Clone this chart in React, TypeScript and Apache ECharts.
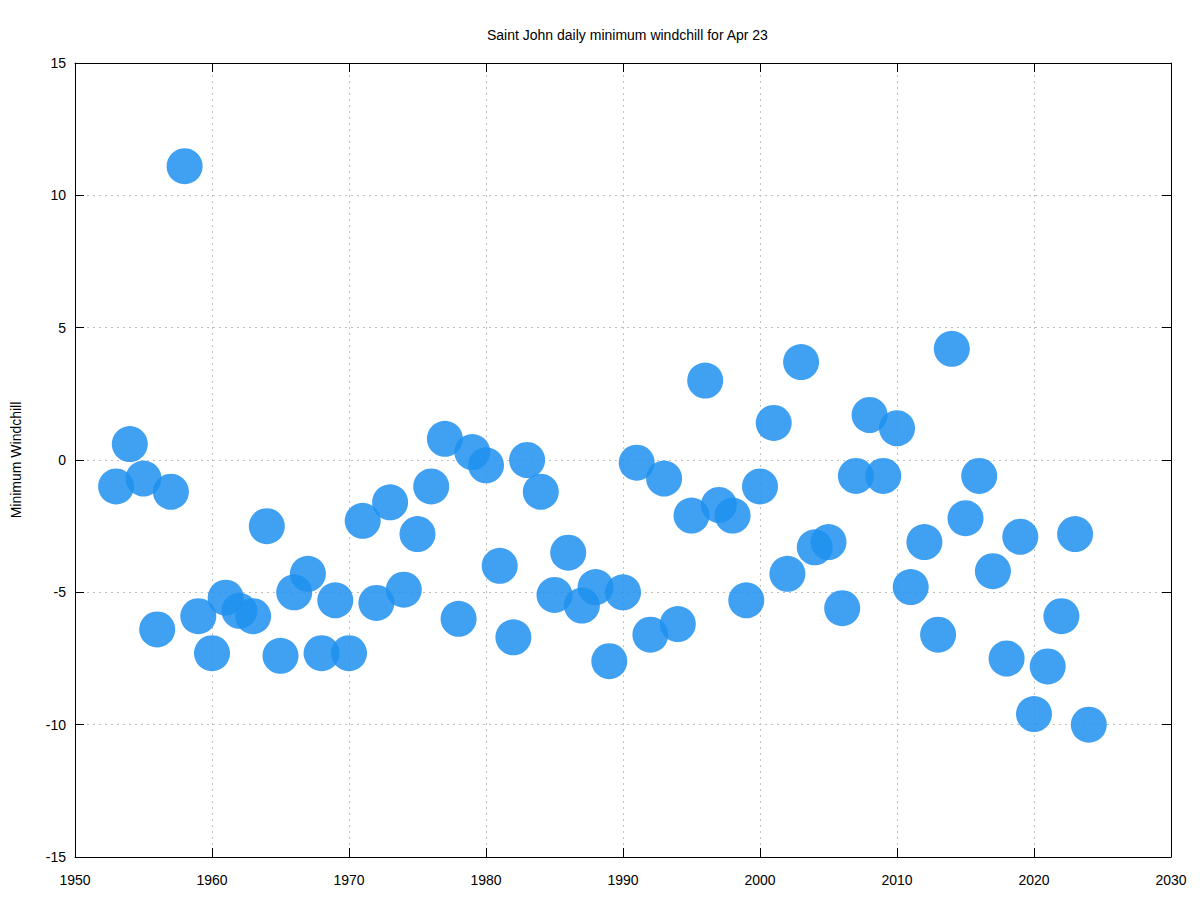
import React, { useEffect, useRef } from "react";
import * as echarts from "echarts";

const years = [
  1953, 1954, 1955, 1956, 1957, 1958, 1959, 1960, 1961, 1962, 1963, 1964, 1965, 1966, 1967, 1968,
  1969, 1970, 1971, 1972, 1973, 1974, 1975, 1976, 1977, 1978, 1979, 1980, 1981, 1982, 1983, 1984,
  1985, 1986, 1987, 1988, 1989, 1990, 1991, 1992, 1993, 1994, 1995, 1996, 1997, 1998, 1999, 2000,
  2001, 2002, 2003, 2004, 2005, 2006, 2007, 2008, 2009, 2010, 2011, 2012, 2013, 2014, 2015, 2016,
  2017, 2018, 2019, 2020, 2021, 2022, 2023, 2024,
];
const windchill = [
  -1.0, 0.6, -0.7, -6.4, -1.2, 11.1, -5.9, -7.3, -5.2, -5.7, -5.9, -2.5, -7.4, -5.0, -4.3, -7.3,
  -5.3, -7.3, -2.3, -5.4, -1.6, -4.9, -2.8, -1.0, 0.8, -6.0, 0.3, -0.2, -4.0, -6.7, 0.0, -1.2,
  -5.1, -3.5, -5.5, -4.8, -7.6, -5.0, -0.1, -6.6, -0.7, -6.2, -2.1, 3.0, -1.7, -2.1, -5.3, -1.0,
  1.4, -4.3, 3.7, -3.3, -3.1, -5.6, -0.6, 1.7, -0.6, 1.2, -4.8, -3.1, -6.6, 4.2, -2.2, -0.6,
  -4.2, -7.5, -2.9, -9.6, -7.8, -5.9, -2.8, -10.0,
];

const titleText = "Saint John daily minimum windchill for Apr 23";
const yAxisName = "Minimum Windchill";

export default function App() {
  const ref = useRef<HTMLDivElement>(null);
  useEffect(() => {
    if (!ref.current) return;
    const chart = echarts.init(ref.current, undefined, { renderer: "svg" });
    const font = "Liberation Sans, Arial, Helvetica, sans-serif";
    const gridLine = { show: true, lineStyle: { color: "#c0c0c0", type: [2, 4] as any, width: 1 } };
    const axisLine = { show: true, onZero: false, lineStyle: { color: "#000", width: 1 } };
    const tick = { show: true, inside: true, length: 9, lineStyle: { color: "#000", width: 1 } };
    chart.setOption({
      animation: false,
      backgroundColor: "#fff",
      title: {
        text: titleText,
        left: 482,
        top: 23,
        textStyle: { fontFamily: font, fontSize: 14, fontWeight: "normal", color: "#000" },
      },
      grid: { left: 75, right: 29, top: 63, bottom: 43, containLabel: false },
      xAxis: [
        {
          type: "value",
          min: 1950,
          max: 2030,
          interval: 10,
          position: "bottom",
          axisLine,
          axisTick: tick,
          splitLine: gridLine,
          axisLabel: {
            fontFamily: font,
            fontSize: 14,
            color: "#000",
            margin: 16,
            formatter: (v: number) => String(v),
          },
        },
        {
          type: "value",
          min: 1950,
          max: 2030,
          interval: 10,
          position: "top",
          axisLine,
          axisTick: tick,
          splitLine: { show: false },
          axisLabel: { show: false },
        },
      ],
      yAxis: [
        {
          type: "value",
          min: -15,
          max: 15,
          interval: 5,
          position: "left",
          name: yAxisName,
          nameLocation: "middle",
          nameGap: 52,
          nameRotate: 90,
          nameTextStyle: { fontFamily: font, fontSize: 14, color: "#000" },
          axisLine,
          axisTick: tick,
          splitLine: gridLine,
          axisLabel: { fontFamily: font, fontSize: 14, color: "#000", margin: 9 },
        },
        {
          type: "value",
          min: -15,
          max: 15,
          interval: 5,
          position: "right",
          axisLine,
          axisTick: tick,
          splitLine: { show: false },
          axisLabel: { show: false },
        },
      ],
      series: [
        {
          type: "scatter",
          xAxisIndex: 0,
          yAxisIndex: 0,
          symbol: "circle",
          symbolSize: 36,
          itemStyle: { color: "#1e90f0", opacity: 0.85 },
          data: years.map((y, i) => [y, windchill[i]]),
        },
      ],
    });
    return () => chart.dispose();
  }, []);
  return (
    <div
      ref={ref}
      style={{ position: "absolute", left: 0, top: 0, width: 1200, height: 900 }}
    />
  );
}
